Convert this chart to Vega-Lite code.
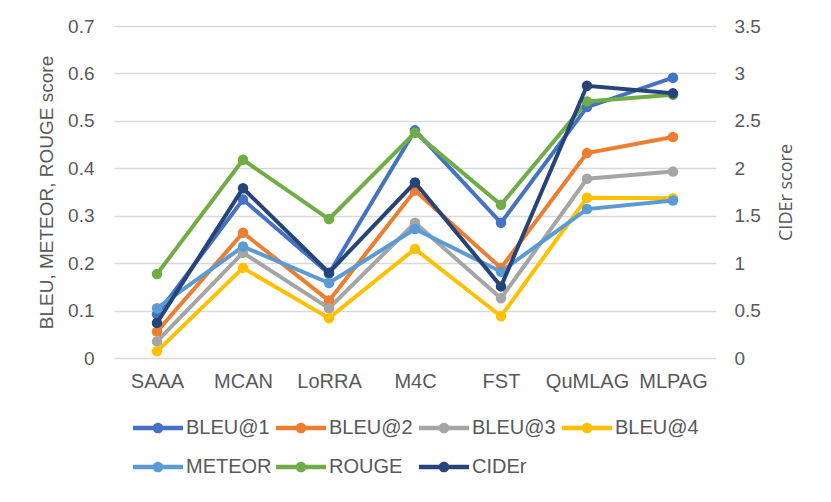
{
  "$schema": "https://vega.github.io/schema/vega-lite/v6.json",
  "autosize": {"type": "none"},
  "padding": {"left": 114, "top": 26, "right": 115, "bottom": 144},
  "width": 602,
  "height": 332,
  "background": "white",
  "config": {
    "view": {"stroke": null},
    "font": "Liberation Sans",
    "axis": {
      "labelFont": "Liberation Sans",
      "labelFontSize": 19,
      "labelColor": "#595959",
      "titleColor": "#595959",
      "titleFontWeight": "normal",
      "domain": false,
      "ticks": false,
      "tickSize": 0
    }
  },
  "data": {
    "values": [
      {"model": "SAAA", "series": "BLEU@1", "value": 0.092},
      {"model": "MCAN", "series": "BLEU@1", "value": 0.334},
      {"model": "LoRRA", "series": "BLEU@1", "value": 0.178},
      {"model": "M4C", "series": "BLEU@1", "value": 0.48},
      {"model": "FST", "series": "BLEU@1", "value": 0.285},
      {"model": "QuMLAG", "series": "BLEU@1", "value": 0.529},
      {"model": "MLPAG", "series": "BLEU@1", "value": 0.591},
      {"model": "SAAA", "series": "BLEU@2", "value": 0.056},
      {"model": "MCAN", "series": "BLEU@2", "value": 0.264},
      {"model": "LoRRA", "series": "BLEU@2", "value": 0.121},
      {"model": "M4C", "series": "BLEU@2", "value": 0.353},
      {"model": "FST", "series": "BLEU@2", "value": 0.19},
      {"model": "QuMLAG", "series": "BLEU@2", "value": 0.432},
      {"model": "MLPAG", "series": "BLEU@2", "value": 0.466},
      {"model": "SAAA", "series": "BLEU@3", "value": 0.035},
      {"model": "MCAN", "series": "BLEU@3", "value": 0.222},
      {"model": "LoRRA", "series": "BLEU@3", "value": 0.105},
      {"model": "M4C", "series": "BLEU@3", "value": 0.285},
      {"model": "FST", "series": "BLEU@3", "value": 0.126},
      {"model": "QuMLAG", "series": "BLEU@3", "value": 0.378},
      {"model": "MLPAG", "series": "BLEU@3", "value": 0.393},
      {"model": "SAAA", "series": "BLEU@4", "value": 0.014},
      {"model": "MCAN", "series": "BLEU@4", "value": 0.19},
      {"model": "LoRRA", "series": "BLEU@4", "value": 0.084},
      {"model": "M4C", "series": "BLEU@4", "value": 0.23},
      {"model": "FST", "series": "BLEU@4", "value": 0.088},
      {"model": "QuMLAG", "series": "BLEU@4", "value": 0.338},
      {"model": "MLPAG", "series": "BLEU@4", "value": 0.337},
      {"model": "SAAA", "series": "METEOR", "value": 0.105},
      {"model": "MCAN", "series": "METEOR", "value": 0.235},
      {"model": "LoRRA", "series": "METEOR", "value": 0.158},
      {"model": "M4C", "series": "METEOR", "value": 0.272},
      {"model": "FST", "series": "METEOR", "value": 0.182},
      {"model": "QuMLAG", "series": "METEOR", "value": 0.314},
      {"model": "MLPAG", "series": "METEOR", "value": 0.332},
      {"model": "SAAA", "series": "ROUGE", "value": 0.177},
      {"model": "MCAN", "series": "ROUGE", "value": 0.418},
      {"model": "LoRRA", "series": "ROUGE", "value": 0.293},
      {"model": "M4C", "series": "ROUGE", "value": 0.475},
      {"model": "FST", "series": "ROUGE", "value": 0.323},
      {"model": "QuMLAG", "series": "ROUGE", "value": 0.541},
      {"model": "MLPAG", "series": "ROUGE", "value": 0.555},
      {"model": "SAAA", "series": "CIDEr", "value": 0.37},
      {"model": "MCAN", "series": "CIDEr", "value": 1.79},
      {"model": "LoRRA", "series": "CIDEr", "value": 0.9},
      {"model": "M4C", "series": "CIDEr", "value": 1.85},
      {"model": "FST", "series": "CIDEr", "value": 0.755},
      {"model": "QuMLAG", "series": "CIDEr", "value": 2.87},
      {"model": "MLPAG", "series": "CIDEr", "value": 2.79}
    ]
  },
  "encoding": {
    "x": {
      "field": "model",
      "type": "nominal",
      "sort": null,
      "scale": {"type": "point", "padding": 0.5},
      "axis": {"title": null, "labelAngle": 0, "labelPadding": 13, "labelFontSize": 20, "grid": false}
    },
    "color": {
      "field": "series",
      "type": "nominal",
      "scale": {
        "domain": ["BLEU@1", "BLEU@2", "BLEU@3", "BLEU@4", "METEOR", "ROUGE", "CIDEr"],
        "range": ["#4472C4", "#ED7D31", "#A5A5A5", "#FFC000", "#5B9BD5", "#70AD47", "#264478"]
      },
      "legend": {
        "title": null,
        "orient": "none",
        "legendX": 25,
        "legendY": 383,
        "direction": "horizontal",
        "columns": 4,
        "gridAlign": "all",
        "columnPadding": 3,
        "rowPadding": 10,
        "symbolType": "M-1.32,-0.12L1.32,-0.12L1.32,0.12L-1.32,0.12Z M0.28,0A0.28,0.28 0 1,1 -0.28,0A0.28,0.28 0 1,1 0.28,0Z",
        "symbolSize": 1444,
        "symbolStrokeWidth": 0,
        "symbolOpacity": 1,
        "labelOffset": 9,
        "labelFont": "Liberation Sans",
        "labelFontSize": 20,
        "labelColor": "#595959",
        "encode": {
          "symbols": {
            "update": {
              "fill": {"scale": "color", "field": "value"},
              "strokeWidth": {"value": 0}
            }
          }
        }
      }
    }
  },
  "layer": [
    {
      "transform": [{"filter": "datum.series !== 'CIDEr'"}],
      "encoding": {
        "y": {
          "field": "value",
          "type": "quantitative",
          "scale": {"domain": [0, 0.7], "nice": false},
          "axis": {
            "orient": "left",
            "title": "BLEU, METEOR, ROUGE score",
            "titleFont": "Liberation Sans",
            "titleFontSize": 19,
            "titlePadding": 11,
            "values": [0, 0.1, 0.2, 0.3, 0.4, 0.5, 0.6, 0.7],
            "format": "~g",
            "labelPadding": 20,
            "grid": true,
            "gridColor": "#d9d9d9",
            "gridWidth": 1.3
          }
        }
      },
      "layer": [
        {"mark": {"type": "line", "strokeWidth": 4}},
        {"mark": {"type": "point", "filled": true, "opacity": 1, "size": 110}}
      ]
    },
    {
      "transform": [{"filter": "datum.series === 'CIDEr'"}],
      "encoding": {
        "y": {
          "field": "value",
          "type": "quantitative",
          "scale": {"domain": [0, 3.5], "nice": false},
          "axis": {
            "orient": "right",
            "title": "CIDEr score",
            "titleFont": "Open Sans",
            "titleFontSize": 18,
            "titleAngle": 270,
            "titlePadding": 35,
            "values": [0, 0.5, 1, 1.5, 2, 2.5, 3, 3.5],
            "format": "~g",
            "labelPadding": 18,
            "grid": false
          }
        }
      },
      "layer": [
        {"mark": {"type": "line", "strokeWidth": 4}},
        {"mark": {"type": "point", "filled": true, "opacity": 1, "size": 110}}
      ]
    }
  ],
  "resolve": {"scale": {"y": "independent"}}
}
